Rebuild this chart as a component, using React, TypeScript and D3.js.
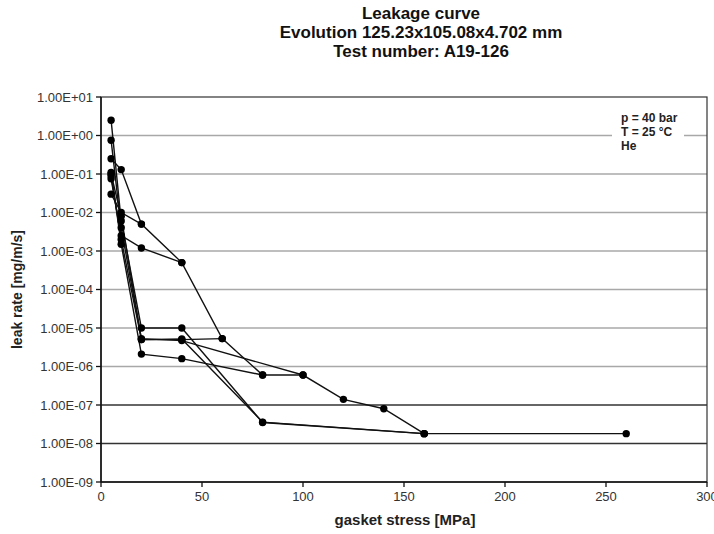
import React from 'react';
import * as d3 from 'd3';

// gasket stress [MPa] / leak rate [mg/m/s] per test path
const firstLoadStress = [5, 10, 20, 40, 60, 80, 100, 120, 140, 160];
const firstLoadLeak = [0.25, 0.13, 0.005, 5e-4, 5.3e-6, 6e-7, 6e-7, 1.4e-7, 8e-8, 1.8e-8];

const unload20Stress = [20, 10, 5];
const unload20Leak = [0.005, 0.01, 0.03];

const unload40Stress = [40, 20, 10, 5];
const unload40Leak = [5e-4, 0.0012, 0.0025, 0.075];

const unload60Stress = [60, 40, 20, 10, 5];
const unload60Leak = [5.3e-6, 5e-6, 5e-6, 0.002, 0.09];

const unload80Stress = [80, 40, 20, 10, 5];
const unload80Leak = [6e-7, 1.6e-6, 2.1e-6, 0.0015, 0.11];

const unload100Stress = [100, 40, 20, 10, 5];
const unload100Leak = [6e-7, 4.7e-6, 5.3e-6, 0.004, 0.75];

const unload160Stress = [160, 80, 40, 20, 10, 5];
const unload160Leak = [1.8e-8, 3.5e-8, 1e-5, 1e-5, 0.006, 2.5];

const finalStress = [260, 160, 80, 40, 20, 10, 5];
const finalLeak = [1.8e-8, 1.8e-8, 3.6e-8, 5.2e-6, 5e-6, 0.008, 0.1];

const xTicks = [0, 50, 100, 150, 200, 250, 300];
const yTicks = [1e1, 1e0, 1e-1, 1e-2, 1e-3, 1e-4, 1e-5, 1e-6, 1e-7, 1e-8, 1e-9];
const darkGrid = [1e-7, 1e-8];

const titleLines = ['Leakage curve', 'Evolution 125.23x105.08x4.702 mm', 'Test number: A19-126'];
const noteLines = ['p = 40 bar', 'T = 25 °C', 'He'];

const series = [
  [firstLoadStress, firstLoadLeak],
  [unload20Stress, unload20Leak],
  [unload40Stress, unload40Leak],
  [unload60Stress, unload60Leak],
  [unload80Stress, unload80Leak],
  [unload100Stress, unload100Leak],
  [unload160Stress, unload160Leak],
  [finalStress, finalLeak],
].map(([s, l]) => s.map((v, i) => ({ x: v, y: l[i] })));

const W = 714;
const H = 534;
const m = { left: 101, right: 7, top: 97, bottom: 52 };

const fmt = (v: number) => {
  const e = Math.round(Math.log10(v));
  return '1.00E' + (e < 0 ? '-' : '+') + String(Math.abs(e)).padStart(2, '0');
};

export default function App() {
  const x = d3.scaleLinear().domain([0, 300]).range([m.left, W - m.right]);
  const y = d3.scaleLog().domain([1e-9, 1e1]).range([H - m.bottom, m.top]);
  const line = d3.line<{ x: number; y: number }>().x(d => x(d.x)).y(d => y(d.y));
  const font = 'Arial, "Liberation Sans", sans-serif';

  return (
    <svg width={W} height={H} style={{ position: 'absolute', left: 0, top: 0, background: '#fff' }} fontFamily={font}>
      {titleLines.map((t, i) => (
        <text key={t} x={421} y={19 + i * 19} textAnchor="middle" fontSize={17} fontWeight="bold" fill="#111">{t}</text>
      ))}

      {/* grid */}
      {yTicks.slice(1, -1).map(t => (
        <line key={t} x1={x(0)} x2={x(300)} y1={y(t)} y2={y(t)}
          stroke={darkGrid.includes(t) ? '#333' : '#a8a8a8'} strokeWidth={1.4} />
      ))}

      {/* notes box */}
      <rect x={612} y={108} width={72} height={46} fill="#fff" />
      {noteLines.map((t, i) => (
        <text key={t} x={621} y={122 + i * 14} fontSize={12} fontWeight="bold" fill="#222">{t}</text>
      ))}

      {/* frame */}
      <rect x={x(0)} y={y(1e1)} width={x(300) - x(0)} height={y(1e-9) - y(1e1)} fill="none" stroke="#333" strokeWidth={1.2} />
      <line x1={x(0)} x2={x(0)} y1={y(1e1)} y2={y(1e-9)} stroke="#111" strokeWidth={1.5} />
      <line x1={x(0)} x2={x(300)} y1={y(1e-9)} y2={y(1e-9)} stroke="#111" strokeWidth={1.5} />

      {/* y axis */}
      {yTicks.map(t => (
        <g key={t}>
          <line x1={x(0) - 5} x2={x(0)} y1={y(t)} y2={y(t)} stroke="#111" strokeWidth={1.3} />
          <text x={x(0) - 8} y={y(t)} dy="0.35em" textAnchor="end" fontSize={13} fill="#333">{fmt(t)}</text>
        </g>
      ))}

      {/* x axis */}
      {xTicks.map(t => (
        <g key={t}>
          <line x1={x(t)} x2={x(t)} y1={y(1e-9)} y2={y(1e-9) + 5} stroke="#111" strokeWidth={1.3} />
          <text x={x(t)} y={y(1e-9) + 19} textAnchor="middle" fontSize={13} fill="#333">{t}</text>
        </g>
      ))}

      <text x={405} y={525} textAnchor="middle" fontSize={15} fontWeight="bold" fill="#222">gasket stress [MPa]</text>
      <text transform={`translate(22,${(y(1e1) + y(1e-9)) / 2}) rotate(-90)`} textAnchor="middle" fontSize={14} fontWeight="bold" fill="#222">leak rate [mg/m/s]</text>

      {/* data */}
      {series.map((s, i) => (
        <path key={i} d={line(s) ?? ''} fill="none" stroke="#111" strokeWidth={1.4} />
      ))}
      {series.map((s, i) => s.map((p, j) => (
        <circle key={`${i}-${j}`} cx={x(p.x)} cy={y(p.y)} r={3.7} fill="#000" />
      )))}
    </svg>
  );
}
